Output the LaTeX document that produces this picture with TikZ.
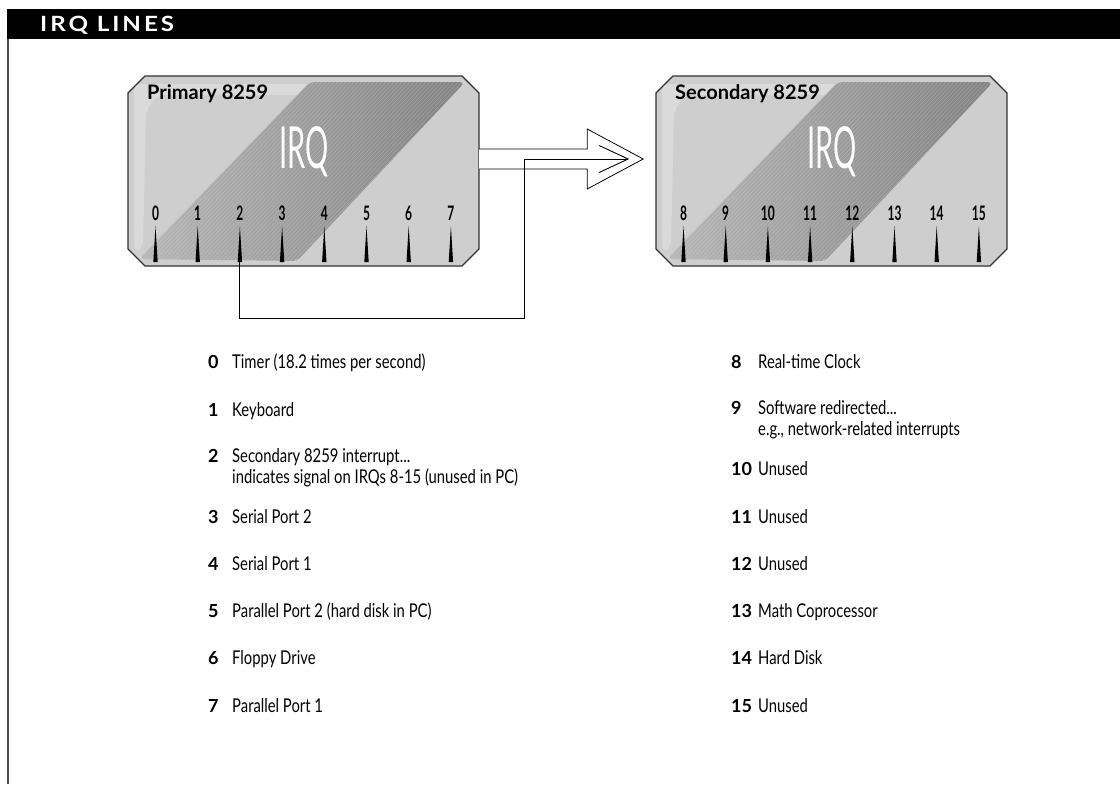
\documentclass[tikz,border=0pt]{standalone}
\usepackage{fontspec}
\setmainfont{Lato}
\newfontfamily\descfont[FakeStretch=0.78]{Lato}
\newfontfamily\pinfont[FakeStretch=0.6]{Lato}
\newfontfamily\irqfont[FakeStretch=0.5]{Lato}
\newfontfamily\headfont[LetterSpace=14,FakeStretch=1.15]{Lato}
\usetikzlibrary{arrows.meta,calc}
\definecolor{chipgray}{RGB}{206,206,206}
\definecolor{chiplight}{RGB}{218,218,218}
\definecolor{chipedge}{RGB}{50,50,50}
\definecolor{bandlight}{RGB}{184,184,184}
\definecolor{banddark}{RGB}{128,128,128}

\begin{document}
\begin{tikzpicture}[x=1pt,y=-1pt,
  chipframe/.style={rectangle,minimum width=351pt,minimum height=190pt,inner sep=0pt},
  chipbody/.style={fill=chipgray,draw=chipedge,line width=1.1pt},
  hatch/.style={draw=white,opacity=0.22,line width=0.5pt},
  chiptitle/.style={font=\bfseries\fontsize{20}{24}\selectfont,anchor=base west,inner sep=0pt},
  irqlbl/.style={font=\irqfont\fontsize{58}{64}\selectfont,text=white,anchor=base,inner sep=0pt},
  pinlbl/.style={font=\pinfont\bfseries\fontsize{20}{24}\selectfont,anchor=base,inner sep=0pt},
  irqnum/.style={font=\bfseries\fontsize{18}{21}\selectfont,anchor=base west,inner sep=0pt},
  irqdesc/.style={font=\descfont\fontsize{19}{22}\selectfont,anchor=base west,inner sep=0pt},
  hdrlbl/.style={font=\headfont\bfseries\fontsize{21}{24}\selectfont,text=white,anchor=base west,inner sep=0pt},
  busarrow/.style={fill=white,draw=black,line width=0.8pt},
  wire/.style={line width=0.9pt}]

  \useasboundingbox (0,0) rectangle (1120,785);

  % Header bar and left rule
  \fill[black] (7,9) rectangle (1120,39);
  \node[hdrlbl] (hdr) at (40,31.5) {IRQ LINES};
  \draw[gray!60!black,line width=2pt] (8,39) -- (8,784);

  % The two 8259 chips
  \foreach \cx/\nm/\ttl/\first in {128/pri/Primary 8259/0, 656/sec/Secondary 8259/8} {
    \node[chipframe] (\nm) at (\cx+175.5,171) {};
    \draw[chipbody] (\cx+17,76) -- (\cx+334,76) -- (\cx+351,93) -- (\cx+351,249)
      -- (\cx+334,266) -- (\cx+17,266) -- (\cx,249) -- (\cx,93) -- cycle;
    \fill[chiplight,rounded corners=7pt] (\cx+6,252) -- (\cx+6,84) -- (\cx+195,84)
      -- (\cx+184,95) -- (\cx+30,95) -- (\cx+18,110) -- (\cx+15,248) -- cycle;
    \begin{scope}
      \clip[rounded corners=5pt] (\cx+182,82) -- (\cx+337,82) -- (\cx+169,261) -- (\cx+11,259) -- cycle;
      \shade[left color=bandlight,right color=banddark] (\cx,76) rectangle (\cx+351,266);
      \foreach \h in {0,4,...,540} \draw[hatch] (\cx+\h,76) -- ++(-183,190);
    \end{scope}
    \node[chiptitle] (\nm-title) at (\cx+19,99) {\ttl};
    \node[irqlbl] (\nm-irq) at (\cx+176,168) {IRQ};
    \foreach \i in {0,...,7} {
      \pgfmathtruncatemacro\pnum{\first+\i}
      \fill[black] (\cx+25.3+42.2*\i,262) -- (\cx+27.5+42.2*\i,226) -- (\cx+29.7+42.2*\i,262) -- cycle;
      \coordinate (\nm-p\i) at (\cx+27.5+42.2*\i,262);
      \node[pinlbl] (\nm-l\i) at (\cx+27.5+42.2*\i,220) {\pnum};
    }
  }

  % Hollow bus arrow between the chips
  \coordinate (busmid) at ($(pri.east)+(0,-12)$);
  \filldraw[busarrow] ($(busmid)+(0,-10)$) -- ++(108,0) -- ++(0,-20) -- ($(busmid)+(164,0)$)
    -- ($(busmid)+(108,30)$) -- ++(0,-20) -- ++(-108,0);
  \coordinate (bustip) at ($(busmid)+(150,0)$);

  % Cascade line from IRQ 2
  \coordinate (bend) at (524,318);
  \draw[wire,-{Straight Barb[length=29pt,width=27pt]}] (pri-p2) |- (bend) |- (bustip);

  % Primary list
  \foreach \n/\y/\t in {0/368/{Timer (18.2 times per second)}, 1/416/{Keyboard},
      2/462/{Secondary 8259 interrupt...}, 3/523/{Serial Port 2}, 4/570/{Serial Port 1},
      5/617/{Parallel Port 2 (hard disk in PC)}, 6/664/{Floppy Drive}, 7/712/{Parallel Port 1}} {
    \node[irqnum] (n\n) at (208,\y) {\n};
    \node[irqdesc] (d\n) at (232,\y) {\t};
  }
  \node[irqdesc] (d2b) at (232,483) {indicates signal on IRQs 8-15 (unused in PC)};

  % Secondary list
  \foreach \n/\y/\t in {8/368/{Real-time Clock}, 9/414/{Software redirected...},
      10/475/{Unused}, 11/523/{Unused}, 12/570/{Unused}, 13/617/{Math Coprocessor},
      14/664/{Hard Disk}, 15/712/{Unused}} {
    \node[irqnum] (n\n) at (731,\y) {\n};
    \node[irqdesc] (d\n) at (758,\y) {\t};
  }
  \node[irqdesc] (d9b) at (758,435) {e.g., network-related interrupts};

\end{tikzpicture}
\end{document}
